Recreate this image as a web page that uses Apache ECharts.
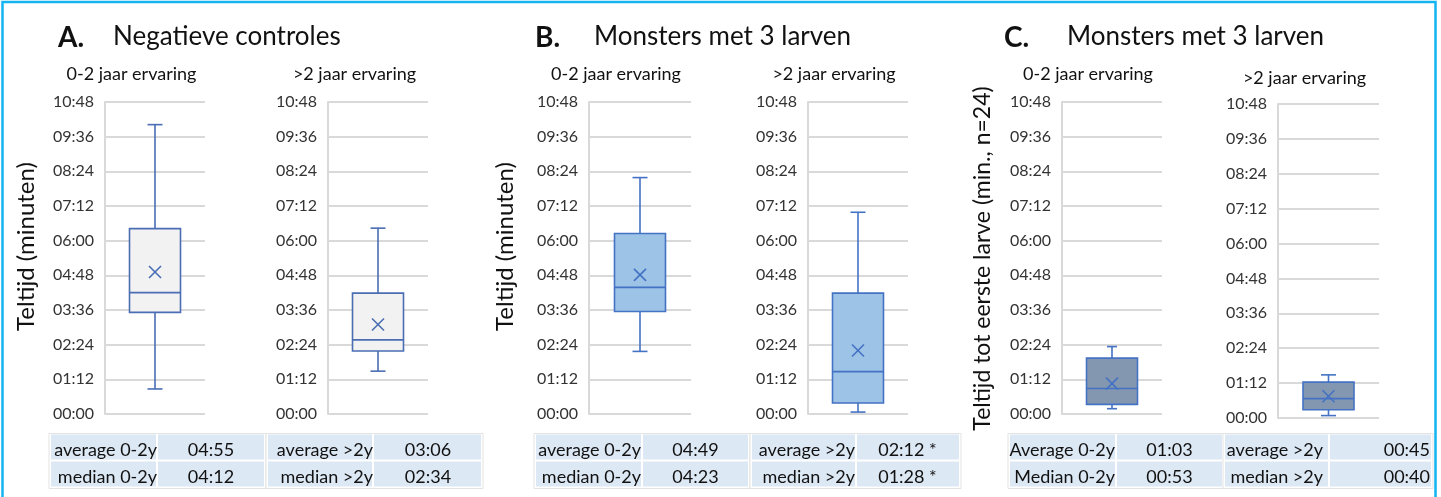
<!DOCTYPE html>
<html>
<head>
<meta charset="utf-8">
<script src="https://cdn.jsdelivr.net/npm/echarts@6/dist/echarts.min.js"></script>
<style>
html,body{margin:0;padding:0;background:#fff;}
#c{width:1441px;height:497px;}
</style>
</head>
<body>
<div id="c"></div>
<script>
// ---- data (seconds) ----
const categories = ['0-2 jaar ervaring', '>2 jaar ervaring'];
const panelLetters = ['A.', 'B.', 'C.'];
const panelTitles = ['Negatieve controles', 'Monsters met 3 larven', 'Monsters met 3 larven'];
const axisNames = ['Teltijd (minuten)', 'Teltijd (minuten)', 'Teltijd tot eerste larve (min., n=24)'];
// [min, Q1, median, Q3, max]
const boxA1 = [52, 211, 252, 385, 601];
const boxA2 = [89, 131, 154, 251, 386];
const boxB1 = [130, 213, 263, 375, 491];
const boxB2 = [4, 23, 88, 251, 419];
const boxC1 = [11, 20, 53, 116, 140];
const boxC2 = [5, 17, 40, 74, 89];
const meanA = [295, 186];
const meanB = [289, 132];
const meanC = [63, 45];
const yMin = 0, yMax = 648, yInterval = 72;
// table texts
const tableLabelsA = [['average 0-2y', 'median 0-2y'], ['average >2y', 'median >2y']];
const tableValuesA = [['04:55', '04:12'], ['03:06', '02:34']];
const tableLabelsB = [['average 0-2y', 'median 0-2y'], ['average >2y', 'median >2y']];
const tableValuesB = [['04:49', '04:23'], ['02:12 *', '01:28 *']];
const tableLabelsC = [['Average 0-2y', 'Median 0-2y'], ['average >2y', 'median >2y']];
const tableValuesC = [['01:03', '00:53'], ['00:45', '00:40']];

// ---- layout ----
const FONT = 'Lato';
const grids = [
  {left: 105, top: 102, width: 100, height: 312},
  {left: 328, top: 102, width: 100, height: 312},
  {left: 589, top: 102, width: 102, height: 312},
  {left: 808, top: 102, width: 100, height: 312},
  {left: 1062, top: 102, width: 100, height: 312},
  {left: 1278, top: 104, width: 101, height: 314}
];
const boxes = [boxA1, boxA2, boxB1, boxB2, boxC1, boxC2];
const means = [meanA[0], meanA[1], meanB[0], meanB[1], meanC[0], meanC[1]];
const fills = ['#f2f2f2', '#f2f2f2', '#9dc3e6', '#9dc3e6', '#8497b0', '#8497b0'];
const strokes = ['#4a6db3', '#4a6db3', '#4472c4', '#4472c4', '#4472c4', '#4472c4'];
const capHalf = [7.5, 7.5, 7.5, 7.5, 5, 7.5];

function fmt(v) {
  const m = Math.floor(v / 60), s = Math.round(v % 60);
  return String(m).padStart(2, '0') + ':' + String(s).padStart(2, '0');
}

function makeRender(i) {
  return function (params, api) {
    const x = api.value(0);
    const p = [1, 2, 3, 4, 5, 6].map(k => api.coord([x, api.value(k)]));
    const cx = p[0][0];
    const half = 25.5, ch = capHalf[i];
    const st = {stroke: strokes[i], lineWidth: 1.6, fill: null};
    const yMinP = p[0][1], yQ1 = p[1][1], yMed = p[2][1], yQ3 = p[3][1], yMaxP = p[4][1], yMean = p[5][1];
    const xs = 6;
    return {
      type: 'group',
      children: [
        {type: 'line', shape: {x1: cx, y1: yMaxP, x2: cx, y2: yQ3}, style: st},
        {type: 'line', shape: {x1: cx - ch, y1: yMaxP, x2: cx + ch, y2: yMaxP}, style: st},
        {type: 'line', shape: {x1: cx, y1: yQ1, x2: cx, y2: yMinP}, style: st},
        {type: 'line', shape: {x1: cx - ch, y1: yMinP, x2: cx + ch, y2: yMinP}, style: st},
        {type: 'rect', shape: {x: cx - half, y: yQ3, width: 2 * half, height: yQ1 - yQ3},
          style: {fill: fills[i], stroke: strokes[i], lineWidth: 1.6}},
        {type: 'line', shape: {x1: cx - half, y1: yMed, x2: cx + half, y2: yMed}, style: st},
        {type: 'line', shape: {x1: cx - xs, y1: yMean - xs, x2: cx + xs, y2: yMean + xs}, style: st},
        {type: 'line', shape: {x1: cx - xs, y1: yMean + xs, x2: cx + xs, y2: yMean - xs}, style: st}
      ]
    };
  };
}

const xAxes = grids.map((g, i) => ({
  type: 'category', gridIndex: i, data: [categories[i % 2]],
  axisLine: {show: false}, axisTick: {show: false}, axisLabel: {show: false}, splitLine: {show: false}
}));
const yAxes = grids.map((g, i) => ({
  type: 'value', gridIndex: i, min: yMin, max: yMax, interval: yInterval,
  axisLine: {show: true, lineStyle: {color: '#d9d9d9', width: 2}},
  axisTick: {show: false},
  splitLine: {show: true, lineStyle: {color: '#d9d9d9', width: 2}},
  axisLabel: {formatter: fmt, color: '#333333', fontFamily: FONT, fontSize: 16, margin: 11}
}));
const series = grids.map((g, i) => ({
  type: 'custom', xAxisIndex: i, yAxisIndex: i,
  renderItem: makeRender(i),
  encode: {x: 0, y: [1, 2, 3, 4, 5, 6]},
  data: [[0].concat(boxes[i]).concat([means[i]])],
  silent: true
}));

// ---- graphics (titles, labels, tables, frame) ----
const graphics = [];
function txt(text, x, y, size, align, opts) {
  graphics.push(Object.assign({
    type: 'text', x: x, y: y, silent: true,
    style: {text: text, fill: '#111111', font: (opts && opts.bold ? 'bold ' : '') + size + 'px ' + FONT,
      textAlign: align, textVerticalAlign: 'middle'}
  }, opts && opts.rotation ? {rotation: opts.rotation} : {}));
}
// titles
const letterX = [58, 535, 1004];
const titleX = [113, 594, 1067];
for (let k = 0; k < 3; k++) {
  txt(panelLetters[k], letterX[k], 38, 28, 'left', {bold: true});
  txt(panelTitles[k], titleX[k], 37, 26, 'left');
}
// subtitles
const subX = [131.5, 354.5, 616, 834, 1088, 1304.5];
const subY = [74, 74, 74, 74, 74, 78.5];
for (let i = 0; i < 6; i++) txt(categories[i % 2], subX[i], subY[i], 18, 'center');
// axis names
const axX = [26, 505, 982.5];
const axY = [246.5, 246.5, 258.5];
const axSize = [24, 24, 23];
for (let k = 0; k < 3; k++) txt(axisNames[k], axX[k], axY[k], axSize[k], 'center', {rotation: Math.PI / 2});

// tables
function table(cols, labels, values, labelRight, valuePos, valueAlign) {
  const rowTop = [434.5, 461.5], rowH = [26, 26];
  for (let t = 0; t < 2; t++) {
    const x0 = cols[t][0], x1 = cols[t][1], x2 = cols[t][2];
    graphics.push({type: 'rect', silent: true, shape: {x: x0 - 1, y: 433.5, width: x2 - x0 + 2, height: 55},
      style: {fill: '#ffffff', stroke: '#e3e3e3', lineWidth: 1}});
    for (let r = 0; r < 2; r++) {
      graphics.push({type: 'rect', silent: true, shape: {x: x0 + 1, y: rowTop[r], width: x1 - x0 - 2, height: rowH[r] - 1},
        style: {fill: '#dde8f5'}});
      graphics.push({type: 'rect', silent: true, shape: {x: x1 + 1, y: rowTop[r], width: x2 - x1 - 2, height: rowH[r] - 1},
        style: {fill: '#dde8f5'}});
      txt(labels[t][r], labelRight[t], rowTop[r] + 15.5, 18, 'right');
      txt(values[t][r], valuePos[t], rowTop[r] + 15.5, 18, valueAlign[t]);
    }
  }
}
table([[50, 157, 265], [267, 373, 482]], tableLabelsA, tableValuesA, [157, 373], [211, 428], ['center', 'center']);
table([[535, 642, 749], [751, 856, 960]], tableLabelsB, tableValuesB, [641, 855], [695.5, 907.5], ['center', 'center']);
table([[1009, 1116, 1223], [1224, 1329, 1432]], tableLabelsC, tableValuesC, [1115, 1323], [1169.5, 1430], ['center', 'right']);

// frame
graphics.push({type: 'polyline', silent: true,
  shape: {points: [[2.5, 497], [2.5, 2], [1435.5, 2], [1435.5, 497]]},
  style: {stroke: '#14b4f0', lineWidth: 2.5, fill: null}});

const chart = echarts.init(document.getElementById('c'), null, {renderer: 'canvas'});
chart.setOption({
  animation: false,
  backgroundColor: '#ffffff',
  grid: grids,
  xAxis: xAxes,
  yAxis: yAxes,
  series: series,
  graphic: graphics
});
</script>
</body>
</html>
